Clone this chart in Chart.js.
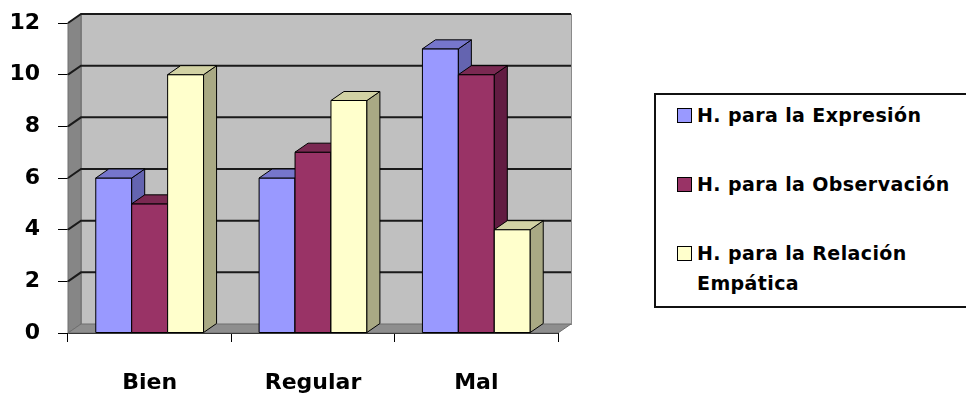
<!DOCTYPE html>
<html>
<head>
<meta charset="utf-8">
<script src="https://cdn.jsdelivr.net/npm/chart.js@4.4.1/dist/chart.umd.min.js"></script>
<style>
  html, body { margin: 0; padding: 0; background: #fff; }
  #wrap { position: relative; width: 966px; height: 394px; }
  #c { position: absolute; left: 0; top: 0; }
  #legend {
    position: absolute; left: 654px; top: 93px; width: 309px; height: 206px;
    border: 2px solid #111; background: #fff;
    font-family: "DejaVu Sans", sans-serif; font-weight: bold;
    font-size: 19px; letter-spacing: 0.4px; line-height: 30px; color: #000;
    padding: 5px 0 0 21px; box-sizing: content-box;
  }
  .item { display: flex; align-items: flex-start; margin-bottom: 39px; width: 286px; }
  .sw { width: 13px; height: 13px; border: 1px solid #000; margin: 8px 5px 0 0; flex: none; }
</style>
</head>
<body>
<div id="wrap">
  <canvas id="c" width="966" height="394"></canvas>
  <div id="legend"></div>
</div>
<script>
// Categories and series values
const categories = ['Bien', 'Regular', 'Mal'];
const seriesNames = ['H. para la Expresión', 'H. para la Observación', 'H. para la Relación Empática'];
const expresion = [6, 6, 11];
const observacion = [5, 7, 10];
const relacion = [10, 9, 4];
const yTickValues = [0, 2, 4, 6, 8, 10, 12];

// Face colours: front, top, side
const palette = [
  { front: '#9999FF', top: '#7676CC', side: '#6464B0' },
  { front: '#993366', top: '#7A2952', side: '#621C42' },
  { front: '#FFFFCC', top: '#D2D2A4', side: '#A9A984' }
];

// Depth of the pseudo-3D offset
const DX = 13, DY = 9;

const font = '"DejaVu Sans", sans-serif';

const wallsPlugin = {
  id: 'walls',
  beforeDatasetsDraw(chart) {
    const { ctx, chartArea: a, scales: { y } } = chart;
    ctx.save();
    // back wall
    ctx.fillStyle = '#C0C0C0';
    ctx.fillRect(a.left + DX, a.top - DY, a.right - a.left, a.bottom - a.top);
    ctx.strokeStyle = '#8a8a8a';
    ctx.lineWidth = 1;
    ctx.strokeRect(a.left + DX + 0.5, a.top - DY + 0.5, a.right - a.left, a.bottom - a.top);
    // left wall
    ctx.fillStyle = '#868686';
    ctx.beginPath();
    ctx.moveTo(a.left, a.top); ctx.lineTo(a.left + DX, a.top - DY);
    ctx.lineTo(a.left + DX, a.bottom - DY); ctx.lineTo(a.left, a.bottom);
    ctx.closePath(); ctx.fill();
    ctx.strokeStyle = '#6e6e6e'; ctx.stroke();
    // floor
    ctx.fillStyle = '#8E8E8E';
    ctx.beginPath();
    ctx.moveTo(a.left, a.bottom); ctx.lineTo(a.left + DX, a.bottom - DY);
    ctx.lineTo(a.right + DX, a.bottom - DY); ctx.lineTo(a.right, a.bottom);
    ctx.closePath(); ctx.fill();
    ctx.strokeStyle = '#6e6e6e'; ctx.stroke();
    // gridlines on the walls
    ctx.strokeStyle = '#1a1a1a';
    ctx.lineWidth = 2;
    yTickValues.forEach(v => {
      if (v === 0) return;
      const py = y.getPixelForValue(v);
      ctx.beginPath();
      ctx.moveTo(a.left, py);
      ctx.lineTo(a.left + DX, py - DY);
      ctx.lineTo(a.right + DX, py - DY);
      ctx.stroke();
    });
    ctx.restore();
  },
  afterDatasetsDraw(chart) {
    const { ctx } = chart;
    const n = chart.data.datasets.length;
    ctx.save();
    ctx.lineWidth = 1;
    ctx.strokeStyle = '#000';
    ctx.lineJoin = 'round';
    for (let i = 0; i < categories.length; i++) {
      for (let d = 0; d < n; d++) {
        const bar = chart.getDatasetMeta(d).data[i];
        const p = bar.getProps(['x', 'y', 'base', 'width'], true);
        const l = p.x - p.width / 2, r = p.x + p.width / 2, t = p.y, b = p.base;
        const col = palette[d];
        // front
        ctx.fillStyle = col.front;
        ctx.fillRect(l, t, r - l, b - t);
        ctx.strokeRect(l, t, r - l, b - t);
        // side
        ctx.fillStyle = col.side;
        ctx.beginPath();
        ctx.moveTo(r, t); ctx.lineTo(r + DX, t - DY); ctx.lineTo(r + DX, b - DY); ctx.lineTo(r, b);
        ctx.closePath(); ctx.fill(); ctx.stroke();
        // top
        ctx.fillStyle = col.top;
        ctx.beginPath();
        ctx.moveTo(l, t); ctx.lineTo(l + DX, t - DY); ctx.lineTo(r + DX, t - DY); ctx.lineTo(r, t);
        ctx.closePath(); ctx.fill(); ctx.stroke();
      }
    }
    ctx.restore();
  }
};

const seriesData = [expresion, observacion, relacion];

new Chart(document.getElementById('c'), {
  type: 'bar',
  data: {
    labels: categories,
    datasets: seriesNames.map((name, k) => ({
      label: name,
      data: seriesData[k],
      backgroundColor: palette[k].front,
      borderColor: '#000',
      borderWidth: 1,
      barPercentage: 1,
      categoryPercentage: 0.66
    }))
  },
  options: {
    responsive: false,
    animation: false,
    devicePixelRatio: 1,
    layout: { padding: { left: 0, right: 408, top: 23, bottom: 0 } },
    plugins: { legend: { display: false }, tooltip: { enabled: false } },
    scales: {
      x: {
        afterFit(s) { s.height = 61; s.paddingLeft = 0; s.paddingRight = 0; },
        grid: { drawOnChartArea: false, drawTicks: true, tickLength: 9, color: '#000', lineWidth: 1 },
        border: { display: true, color: '#000', width: 1 },
        ticks: { color: '#000', padding: 28, font: { family: font, size: 22, weight: 'bold' } }
      },
      y: {
        min: 0, max: 12,
        afterFit(s) { s.width = 68; s.paddingTop = 0; s.paddingBottom = 0; },
        afterBuildTicks(s) { s.ticks = yTickValues.map(v => ({ value: v })); },
        grid: { drawOnChartArea: false, drawTicks: true, tickLength: 10, color: '#000', lineWidth: 1 },
        border: { display: true, color: '#333', width: 1 },
        ticks: { color: '#000', padding: 18, font: { family: font, size: 22, weight: 'bold' } }
      }
    }
  },
  plugins: [wallsPlugin]
});

// Legend built from the series names and colours
const leg = document.getElementById('legend');
seriesNames.forEach((name, k) => {
  const it = document.createElement('div');
  it.className = 'item';
  const sw = document.createElement('span');
  sw.className = 'sw';
  sw.style.background = palette[k].front;
  const tx = document.createElement('span');
  tx.textContent = name;
  it.appendChild(sw); it.appendChild(tx);
  leg.appendChild(it);
});
</script>
</body>
</html>
